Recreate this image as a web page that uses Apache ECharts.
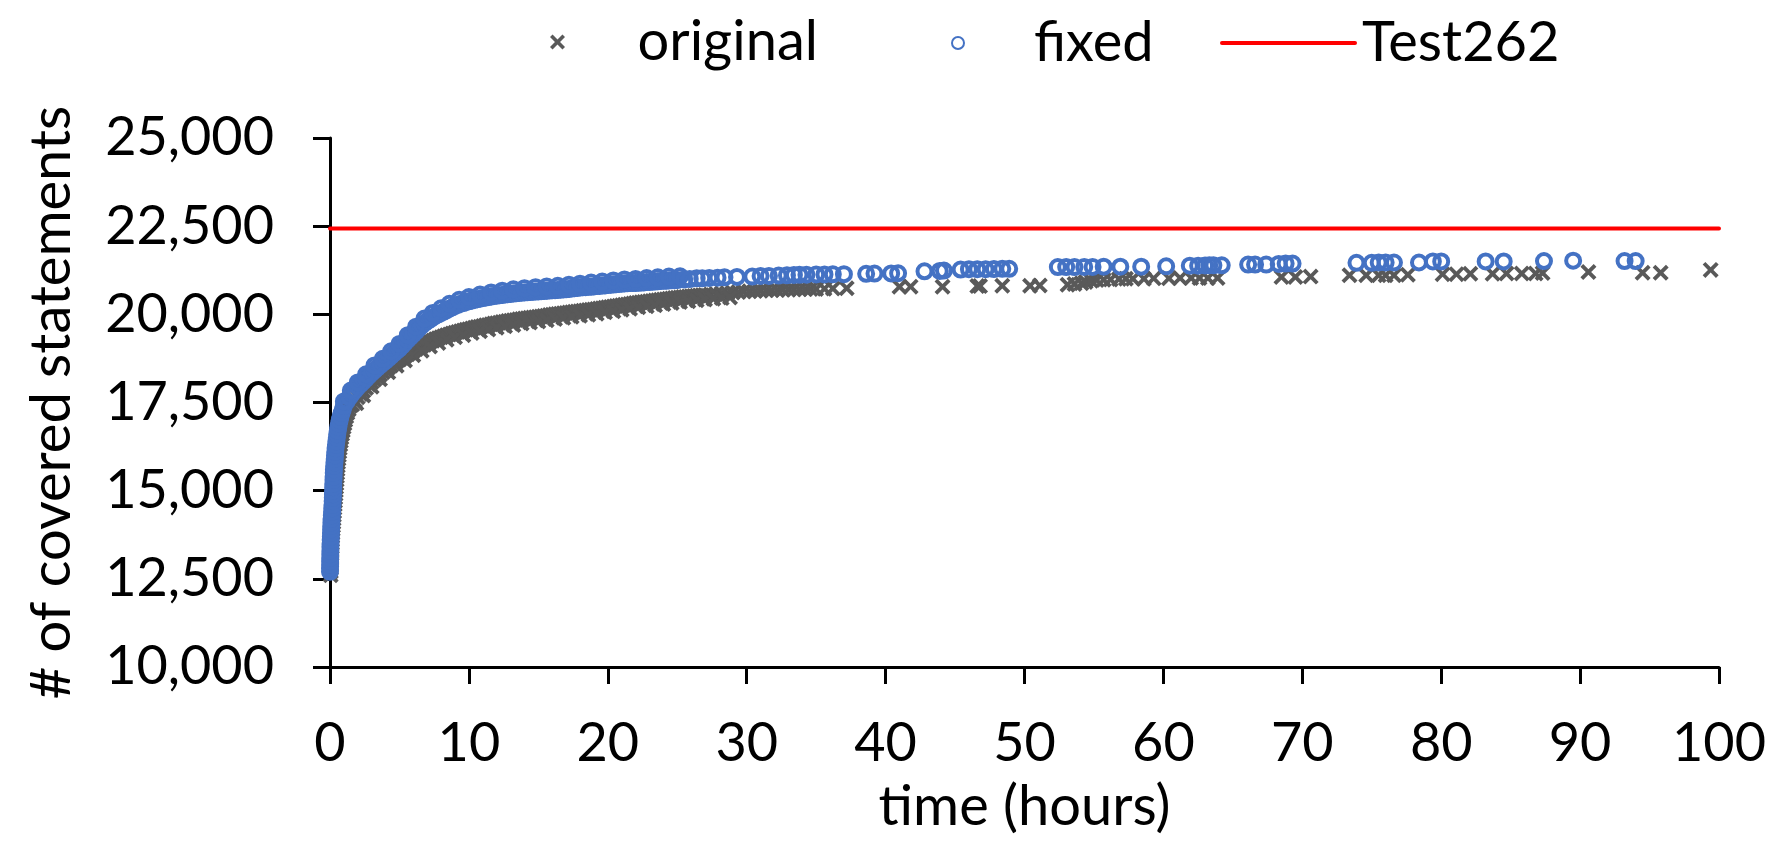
<!DOCTYPE html>
<html>
<head>
<meta charset="utf-8">
<script src="https://cdn.jsdelivr.net/npm/echarts@6/dist/echarts.min.js"></script>
<style>html,body{margin:0;padding:0;background:#fff;}#c{width:1773px;height:848px;}</style>
</head>
<body>
<div id="c"></div>
<script>
// ---- data (hours, covered statements) ----
const xTicks = [0, 10, 20, 30, 40, 50, 60, 70, 80, 90, 100];
const yTicks = [10000, 12500, 15000, 17500, 20000, 22500, 25000];
const seriesNames = ['original', 'fixed', 'Test262'];

// original: early steep part
const originalSteep = [
[0.05,12600],[0.06,12700],[0.07,12800],[0.08,12900],[0.09,13000],[0.10,13100],[0.11,13200],[0.12,13300],[0.13,13400],[0.14,13500],
[0.15,13600],[0.16,13700],[0.18,13800],[0.20,13900],[0.22,14000],[0.24,14100],[0.26,14200],[0.28,14300],[0.30,14400],[0.32,14500],
[0.34,14600],[0.36,14700],[0.38,14800],[0.40,14900],[0.42,15000],[0.44,15100],[0.46,15200],[0.48,15300],[0.50,15400],[0.52,15500],
[0.54,15600],[0.56,15700],[0.58,15800],[0.61,15900],[0.64,16000],[0.67,16100],[0.70,16200],[0.74,16300],[0.78,16400],[0.82,16500],
[0.87,16600],[0.92,16700],[0.98,16800],[1.04,16900],[1.10,17000],[1.17,17100],[1.25,17200],[1.35,17300],[1.46,17400]
];
// original: dense trace after the knee
const originalDense = [
[1.6,17440],[1.8,17550],[2.0,17650],[2.2,17740],[2.4,17830],[2.6,17910],[2.8,18000],[3.0,18080],[3.2,18150],[3.4,18220],
[3.6,18290],[3.8,18360],[4.0,18420],[4.2,18490],[4.4,18550],[4.6,18610],[4.8,18670],[5.0,18720],[5.2,18770],[5.4,18820],
[5.6,18870],[5.8,18920],[6.0,18970],[6.2,19020],[6.4,19060],[6.6,19100],[6.8,19140],[7.0,19180],[7.2,19220],[7.4,19250],
[7.6,19290],[7.8,19320],[8.0,19350],[8.2,19380],[8.4,19410],[8.6,19430],[8.8,19460],[9.0,19480],[9.2,19500],[9.4,19520],
[9.6,19540],[9.8,19560],[10.0,19580],[10.2,19600],[10.4,19620],[10.6,19640],[10.8,19650],[11.0,19670],[11.2,19690],[11.4,19700],
[11.6,19720],[11.8,19740],[12.0,19750],[12.2,19760],[12.4,19780],[12.6,19790],[12.8,19810],[13.0,19820],[13.2,19830],[13.4,19840],
[13.6,19860],[13.8,19870],[14.0,19880],[14.2,19890],[14.4,19900],[14.6,19910],[14.8,19920],[15.0,19930],[15.2,19940],[15.4,19950],
[15.6,19960],[15.8,19980],[16.0,19990],[16.2,20000],[16.4,20010],[16.6,20020],[16.8,20030],[17.0,20040],[17.2,20050],[17.4,20060],
[17.6,20070],[17.8,20080],[18.0,20090],[18.2,20100],[18.4,20110],[18.6,20120],[18.8,20130],[19.0,20140],[19.2,20150],[19.4,20165],
[19.6,20175],[19.8,20190],[20.0,20200],[20.2,20210],[20.4,20220],[20.6,20235],[20.8,20245],[21.0,20260],[21.2,20270],[21.4,20280],
[21.6,20295],[21.8,20305],[22.0,20320],[22.2,20330],[22.4,20340],[22.6,20350],[22.8,20360],[23.0,20370],[23.2,20380],[23.4,20390],
[23.6,20400],[23.8,20410],[24.0,20420],[24.2,20430],[24.4,20440],[24.6,20450],[24.8,20460],[25.0,20470],[25.2,20480],[25.4,20490],
[25.6,20495],[25.8,20505],[26.0,20510],[26.2,20520],[26.4,20525],[26.6,20535],[26.8,20540],[27.0,20550],[27.4,20565],[27.8,20580],
[28.2,20595],[28.6,20605],[29.0,20620],[29.4,20630],[29.8,20645],[30.2,20655],[30.6,20660],[31.0,20670],[31.4,20680],[31.8,20685],
[32.2,20690],[32.6,20695],[33.0,20700],[33.4,20705],[33.8,20710],[34.2,20715],[34.6,20720],[35.0,20720],[35.6,20725],[36.2,20735],
[37.2,20740]
];
// original: lower spread of the dense trace
const originalSpread = [
[1.9,17480],[2.4,17700],[3.0,17950],[3.6,18160],[4.2,18360],[4.8,18540],[5.4,18690],[6.0,18840],[6.6,18970],[7.2,19090],
[7.8,19190],[8.4,19280],[9.0,19350],[9.6,19410],[10.2,19470],[10.8,19520],[11.4,19570],[12.0,19620],[12.6,19660],[13.2,19700],
[13.8,19740],[14.4,19770],[15.0,19800],[15.6,19830],[16.2,19870],[16.8,19900],[17.4,19930],[18.0,19960],[18.6,19990],[19.2,20020],
[19.8,20060],[20.4,20090],[21.0,20130],[21.6,20160],[22.2,20200],[22.8,20230],[23.4,20260],[24.0,20290],[24.6,20320],[25.2,20350],
[25.8,20370],[26.4,20400],[27.0,20420],[27.6,20440],[28.2,20460],[28.8,20480]
];
// original: sparse late points
const originalLate = [
[41.0,20780],[41.8,20785],[44.1,20780],[46.6,20800],[46.8,20800],[48.4,20810],[50.4,20810],[51.1,20815],[53.1,20840],[53.6,20860],
[54.1,20880],[54.4,20920],[54.8,20950],[55.2,20970],[55.7,20980],[56.2,20990],[56.8,21000],[57.3,21010],[57.8,21010],[58.6,21010],
[59.3,21020],[60.4,21020],[61.2,21030],[62.0,21030],[62.6,21030],[63.2,21030],[63.9,21030],[68.5,21060],[69.5,21060],[70.6,21070],
[73.4,21110],[74.6,21110],[75.5,21110],[76.0,21110],[76.6,21110],[77.6,21120],[80.1,21140],[81.1,21140],[82.1,21150],[83.7,21150],
[84.7,21160],[85.8,21160],[86.8,21160],[87.3,21170],[90.6,21200],[94.5,21180],[95.8,21180],[99.4,21260]
];

// fixed: early steep part
const fixedSteep = [
[0.00,12700],[0.00,12800],[0.01,12900],[0.01,13000],[0.02,13100],[0.02,13200],[0.03,13300],[0.03,13400],[0.04,13500],[0.05,13600],
[0.06,13700],[0.07,13800],[0.08,13900],[0.09,14000],[0.10,14100],[0.11,14200],[0.13,14300],[0.15,14400],[0.16,14500],[0.18,14600],
[0.19,14700],[0.20,14800],[0.21,14900],[0.22,15000],[0.23,15100],[0.24,15200],[0.25,15300],[0.26,15400],[0.27,15500],[0.28,15600],
[0.30,15700],[0.32,15800],[0.34,15900],[0.36,16000],[0.38,16100],[0.40,16200],[0.43,16300],[0.46,16400],[0.49,16500],[0.52,16600],
[0.56,16700],[0.60,16800],[0.64,16900],[0.70,17000],[0.76,17100],[0.84,17200],[0.92,17300]
];
// fixed: dense trace after the knee
const fixedDense = [
[1.0,17400],[1.2,17530],[1.4,17650],[1.6,17760],[1.8,17850],[2.0,17940],[2.2,18020],[2.4,18100],[2.6,18180],[2.8,18260],
[3.0,18340],[3.2,18410],[3.4,18480],[3.6,18550],[3.8,18620],[4.0,18680],[4.2,18750],[4.4,18820],[4.6,18890],[4.8,18960],
[5.0,19030],[5.2,19110],[5.4,19200],[5.6,19280],[5.8,19360],[6.0,19440],[6.2,19520],[6.4,19600],[6.6,19680],[6.8,19750],
[7.0,19810],[7.2,19860],[7.4,19910],[7.6,19960],[7.8,20000],[8.0,20040],[8.2,20080],[8.4,20120],[8.6,20160],[8.8,20200],
[9.0,20240],[9.2,20270],[9.4,20300],[9.6,20320],[9.8,20350],[10.0,20370],[10.2,20390],[10.4,20410],[10.6,20430],[10.8,20445],
[11.0,20460],[11.2,20475],[11.4,20490],[11.6,20505],[11.8,20520],[12.0,20530],[12.2,20540],[12.4,20550],[12.6,20560],[12.8,20570],
[13.0,20580],[13.2,20590],[13.4,20595],[13.6,20605],[13.8,20615],[14.0,20620],[14.2,20625],[14.4,20630],[14.6,20640],[14.8,20645],
[15.0,20650],[15.2,20655],[15.4,20660],[15.6,20670],[15.8,20675],[16.0,20680],[16.2,20685],[16.4,20690],[16.6,20700],[16.8,20705],
[17.0,20710],[17.2,20720],[17.4,20730],[17.6,20740],[17.8,20750],[18.0,20760],[18.2,20765],[18.4,20770],[18.6,20780],[18.8,20785],
[19.0,20790],[19.2,20800],[19.4,20805],[19.6,20815],[19.8,20820],[20.0,20830],[20.2,20840],[20.4,20845],[20.6,20855],[20.8,20860],
[21.0,20870],[21.2,20875],[21.4,20880],[21.6,20885],[21.8,20885],[22.0,20890],[22.2,20895],[22.4,20900],[22.6,20905],[22.8,20915],
[23.0,20920],[23.2,20925],[23.4,20930],[23.6,20935],[23.8,20945],[24.0,20950],[24.2,20955],[24.4,20960],[24.6,20965],[24.8,20965],
[25.0,20970]
];
// fixed: upper spread of the dense trace
const fixedSpread = [
[1.0,17530],[1.5,17840],[2.0,18070],[2.6,18300],[3.2,18550],[3.8,18740],[4.4,18950],[5.0,19160],[5.6,19410],[6.2,19650],
[6.8,19880],[7.4,20040],[8.0,20170],[8.6,20300],[9.3,20410],[10.0,20490],[10.8,20560],[11.6,20620],[12.4,20670],[13.2,20710],
[14.0,20740],[14.8,20770],[15.6,20790],[16.4,20810],[17.2,20840],[18.0,20870],[18.8,20900],[19.6,20930],[20.4,20960],[21.2,20990],
[22.0,21005],[22.8,21030],[23.6,21050],[24.4,21070],[25.2,21080]
];
// fixed: sparse late points
const fixedLate = [
[25.5,20990],[25.9,21000],[26.4,21020],[26.8,21020],[27.3,21030],[27.9,21040],[28.4,21050],[29.3,21060],[30.4,21070],[31.0,21090],
[31.6,21090],[32.3,21100],[32.9,21105],[33.4,21115],[33.8,21120],[34.3,21125],[35.0,21130],[35.6,21130],[36.2,21135],[37.0,21140],
[38.6,21150],[39.2,21155],[40.4,21160],[40.9,21165],[42.8,21220],[43.9,21230],[44.2,21240],[45.4,21270],[46.0,21280],[46.6,21280],
[47.2,21280],[47.8,21285],[48.4,21290],[48.9,21290],[52.4,21340],[53.0,21340],[53.6,21340],[54.3,21345],[54.9,21345],[55.7,21350],
[56.9,21350],[58.4,21350],[60.2,21360],[61.9,21380],[62.5,21380],[63.0,21385],[63.3,21390],[63.6,21390],[64.2,21390],[66.1,21410],
[66.6,21410],[67.4,21410],[68.3,21430],[68.8,21440],[69.3,21440],[73.9,21460],[75.0,21460],[75.5,21470],[76.0,21470],[76.6,21470],
[78.4,21470],[79.4,21500],[80.0,21500],[83.2,21500],[84.5,21500],[87.4,21510],[89.5,21520],[93.2,21510],[94.0,21510]
];

const test262Hours = [0, 100];
const test262Value = 22435;
const test262Data = test262Hours.map(h => [h, test262Value]);

// ---- styling ----
const FONT = 'Lato';
const GRAY = '#595959';
const BLUE = '#4472C4';
const RED = '#FF0000';
const X_PATH = 'path://M0,1.7 L1.7,0 L5,3.3 L8.3,0 L10,1.7 L6.7,5 L10,8.3 L8.3,10 L5,6.7 L1.7,10 L0,8.3 L3.3,5 Z';

const chart = echarts.init(document.getElementById('c'), null, {renderer: 'canvas'});
const legendText = {fontFamily: FONT, fontSize: 56, color: '#000'};

chart.setOption({
  animation: false,
  backgroundColor: '#fff',
  grid: {left: 330, right: 54, top: 138, bottom: 181, outerBoundsMode: 'none'},
  legend: [
    {data: [{name: seriesNames[0], icon: X_PATH}], left: 550, top: 14, padding: 0,
     itemWidth: 150, itemHeight: 15, textStyle: legendText, selectedMode: false},
    {data: [seriesNames[1]], left: 951, top: 15, padding: 0,
     itemWidth: 142, itemHeight: 12, textStyle: legendText, selectedMode: false},
    {data: [seriesNames[2]], left: 1220, top: 15, padding: 0,
     itemWidth: 133, itemHeight: 14,
     itemStyle: {color: 'rgba(0,0,0,0)', borderWidth: 0, opacity: 0},
     lineStyle: {color: RED, width: 4, cap: 'round'},
     textStyle: Object.assign({padding: [0, 0, 0, 2]}, legendText), selectedMode: false}
  ],
  xAxis: {
    type: 'value', min: xTicks[0], max: xTicks[xTicks.length - 1], interval: 10,
    name: 'time (hours)', nameLocation: 'middle', nameGap: 112,
    nameTextStyle: {fontFamily: FONT, fontSize: 56, color: '#000'},
    axisLine: {onZero: false, lineStyle: {color: '#000', width: 3}},
    axisTick: {show: true, inside: false, length: 17, lineStyle: {color: '#000', width: 3}},
    axisLabel: {fontFamily: FONT, fontSize: 54, color: '#000', margin: 50},
    splitLine: {show: false}
  },
  yAxis: {
    type: 'value', min: yTicks[0], max: yTicks[yTicks.length - 1], interval: 2500,
    name: '# of covered statements', nameLocation: 'middle', nameGap: 250,
    nameTextStyle: {fontFamily: FONT, fontSize: 56, color: '#000'},
    axisLine: {show: true, onZero: false, lineStyle: {color: '#000', width: 3}},
    axisTick: {show: true, inside: false, length: 17, lineStyle: {color: '#000', width: 3}},
    axisLabel: {fontFamily: FONT, fontSize: 54, color: '#000', margin: 56,
      formatter: v => v.toLocaleString('en-US')},
    splitLine: {show: false}
  },
  series: [
    {name: seriesNames[0], type: 'scatter',
     data: originalSteep.concat(originalDense, originalSpread, originalLate),
     symbol: X_PATH, symbolSize: 16, itemStyle: {color: GRAY, opacity: 1}},
    {name: seriesNames[1], type: 'scatter',
     data: fixedSteep.concat(fixedDense, fixedSpread, fixedLate),
     symbol: 'circle', symbolSize: 14,
     itemStyle: {color: 'rgba(0,0,0,0)', borderColor: BLUE, borderWidth: 4, opacity: 1}},
    {name: seriesNames[2], type: 'line', data: test262Data, symbol: 'none', showSymbol: false,
     lineStyle: {color: RED, width: 4, cap: 'round'}, itemStyle: {color: RED}}
  ]
});
</script>
</body>
</html>
